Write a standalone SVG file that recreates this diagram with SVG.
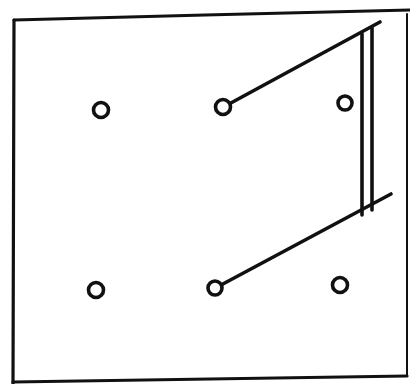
<svg xmlns="http://www.w3.org/2000/svg" width="410" height="384" viewBox="0 0 410 384">
<style>
.frame{fill:none;stroke:#111;stroke-width:3.2;stroke-linecap:round;stroke-linejoin:round}
.ln{fill:none;stroke:#111;stroke-width:3.6;stroke-linecap:round}
.dot{fill:#fff;stroke:#111;stroke-width:3.6}
</style>
<rect width="410" height="384" fill="#fff"/>
<g id="frame">
<path class="frame" d="M14,20 L205,15 L410,10"/>
<path class="frame" d="M14,20 L13,384"/>
<path class="frame" d="M13,382 L407,376"/>
<path class="frame" d="M407,14 L407,376" style="stroke-width:2"/>
</g>
<g id="connectors">
<line class="ln" x1="229" y1="104" x2="380" y2="22"/>
<line class="ln" x1="221" y1="285" x2="391" y2="194"/>
<line class="ln" x1="362" y1="34" x2="362" y2="215"/>
<line class="ln" x1="372" y1="28" x2="372" y2="210"/>
</g>
<g id="n1"><circle class="dot" cx="101" cy="110" r="7.5"/></g>
<g id="n2"><circle class="dot" cx="223" cy="107" r="7.5"/></g>
<g id="n3"><circle class="dot" cx="345" cy="103" r="7"/></g>
<g id="n4"><circle class="dot" cx="96" cy="290" r="7.5"/></g>
<g id="n5"><circle class="dot" cx="215" cy="288" r="7"/></g>
<g id="n6"><circle class="dot" cx="340" cy="285" r="7.5"/></g>
</svg>
